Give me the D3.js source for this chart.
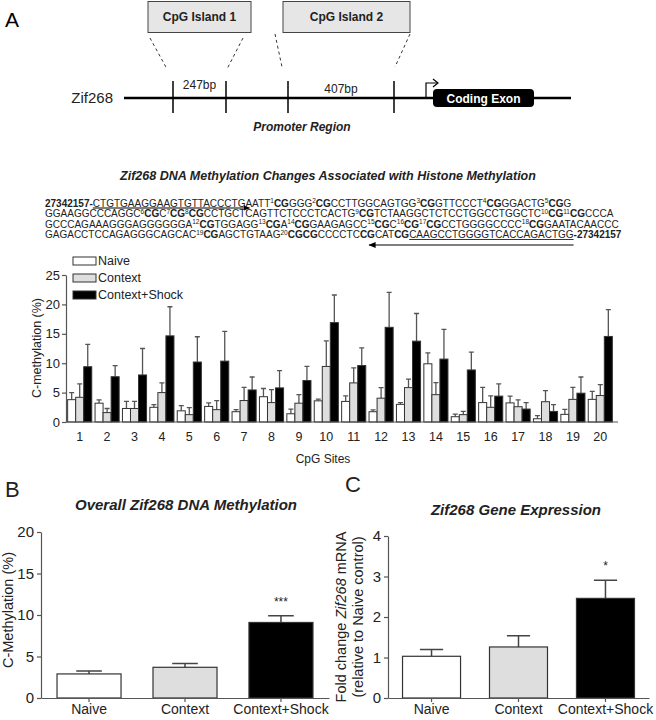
<!DOCTYPE html>
<html>
<head>
<meta charset="utf-8">
<script src="https://cdn.jsdelivr.net/npm/d3@7"></script>
<style>
  body { margin: 0; background: #fff; }
  svg { font-family: 'Liberation Sans', Arial, sans-serif; }
</style>
</head>
<body>
<div class="vis-figure"></div>
<script>
// CpG sites and treatment groups
const sites = ['1', '2', '3', '4', '5', '6', '7', '8', '9', '10',
  '11', '12', '13', '14', '15', '16', '17', '18', '19', '20'];
const groups = ['Naive', 'Context', 'Context+Shock'];

// panel A: % methylation per site (mean and SEM)
const naiveMeth = [3.8, 3.2, 2.3, 2.5, 1.9, 2.65, 1.75, 4.3, 1.4, 3.6, 3.5, 1.75, 3.0, 9.9, 0.9, 3.3, 3.25, 0.55, 1.3, 3.85];
const naiveSem = [1.2, 0.55, 1.2, 0.45, 0.9, 0.6, 0.35, 1.4, 0.8, 0.3, 0.95, 0.3, 0.3, 1.85, 0.45, 2.6, 1.15, 0.55, 0.85, 1.35];
const contextMeth = [4.2, 1.6, 2.3, 5.0, 1.25, 2.1, 3.65, 3.3, 3.2, 9.45, 6.65, 4.05, 5.85, 4.65, 1.25, 2.5, 2.6, 3.45, 3.85, 4.5];
const contextSem = [2.3, 0.7, 1.2, 1.65, 1.2, 1.55, 2.25, 2.2, 1.45, 4.35, 2.55, 1.8, 1.45, 2.05, 0.55, 1.95, 1.15, 1.9, 2.05, 1.85];
const shockMeth = [9.4, 7.7, 8.0, 14.65, 10.2, 10.35, 5.45, 5.8, 7.05, 16.9, 9.6, 16.1, 13.75, 10.7, 8.85, 4.4, 2.2, 1.8, 4.9, 14.55];
const shockSem = [3.8, 1.9, 4.5, 4.95, 4.3, 5.05, 2.2, 2.95, 2.4, 4.7, 3.0, 5.95, 4.7, 5.05, 3.05, 2.1, 1.1, 1.15, 2.75, 4.55];
const siteTicks = [0, 5, 10, 15, 20, 25];

// panel B: overall methylation
const overallMeth = [2.9, 3.7, 9.1];
const overallSem = [0.35, 0.45, 0.8];
const overallSig = ['', '', '***'];
const overallTicks = [0, 5, 10, 15, 20];

// panel C: gene expression (fold change)
const exprFold = [1.03, 1.26, 2.46];
const exprSem = [0.17, 0.28, 0.45];
const exprSig = ['', '', '*'];
const exprTicks = [0, 1, 2, 3, 4];

// promoter sequence, * = bold, _ = underlined primer, ^n = CpG number
const seqLines = [
  '*27342157-*_CTGTGAAGGAAGTGTTACCCTG_AATT^1*CG*GGG^2*CG*CCTTGGCAGTGG^3*CG*GTTCCCT^4*CG*GGACTG^5*CG*G',
  'GGAAGGCCCAGGC^6*CG*C^7*CG*^8*CG*CCTGCTCAGTTCTCCCTCACTG^9*CG*TCTAAGGCTCTCCTGGCCTGGCTC^10*CG*^11*CG*CCCA',
  'GCCCAGAAAGGGAGGGGGGA^12*CG*TGGAGG^13*CG*A^14*CG*GAAGAGCC^15*CG*C^16*CG*^17*CG*CCTGGGGCCCC^18*CG*GAATACAACCC',
  'GAGACCTCCAGAGGGCAGCAC^19*CG*AGCTGTAAG^20*CGCG*CCCCTC*CG*CAT*CG*_CAAGCCTGGGGTCACCAGACTGG_*-27342157*'
];

const fills = d3.scaleOrdinal().domain(groups).range(['#ffffff', '#dedede', '#000000']);
const axisColor = '#555';
const textColor = '#222';

const svg = d3.select('.vis-figure')
  .append('svg')
  .attr('width', 656)
  .attr('height', 720);

svg.append('defs').append('marker')
  .attr('id', 'arrow')
  .attr('viewBox', '0 0 10 10')
  .attr('refX', 9).attr('refY', 5)
  .attr('markerWidth', 6).attr('markerHeight', 6)
  .attr('orient', 'auto-start-reverse')
  .append('path')
  .attr('d', 'M0,1 L10,5 L0,9 z')
  .attr('fill', '#000');

const styleAxis = (g, size) => {
  g.select('.domain').attr('stroke', axisColor).attr('stroke-width', 1.2);
  g.selectAll('.tick line').attr('stroke', axisColor).attr('stroke-width', 1.2);
  g.selectAll('.tick text').attr('fill', textColor).style('font-size', size + 'px');
};

// ---------- panel A schematic ----------
const schem = svg.append('g');
schem.append('text').attr('x', 5).attr('y', 27).style('font-size', '21px').text('A');

const islands = [
  { label: 'CpG Island 1', x0: 148, x1: 251, l0: 150, l1: 243, t0: 173, t1: 226, bp: '247bp' },
  { label: 'CpG Island 2', x0: 283, x1: 410, l0: 275, l1: 410, t0: 288, t1: 394, bp: '407bp' }
];
const lineY = 98;

islands.forEach((d, i) => {
  schem.append('rect')
    .attr('x', d.x0).attr('y', 1.5)
    .attr('width', d.x1 - d.x0).attr('height', 31)
    .attr('fill', '#e6e6e6').attr('stroke', '#444').attr('stroke-width', 1);
  schem.append('text')
    .attr('x', (d.x0 + d.x1) / 2).attr('y', 21)
    .attr('text-anchor', 'middle')
    .style('font-size', '12px').style('font-weight', 'bold')
    .attr('fill', '#222')
    .text(d.label);
  const top = i === 0 ? 38 : 34;
  const bot = i === 0 ? 69 : 67;
  schem.append('line').attr('x1', d.l0).attr('y1', top).attr('x2', d.t0 - 6).attr('y2', bot)
    .attr('stroke', '#333').attr('stroke-dasharray', '3,3');
  schem.append('line').attr('x1', d.l1).attr('y1', top).attr('x2', d.t1 + 1).attr('y2', bot)
    .attr('stroke', '#333').attr('stroke-dasharray', '3,3');
  [d.t0, d.t1].forEach((tx) => {
    schem.append('line').attr('x1', tx).attr('x2', tx).attr('y1', 81).attr('y2', 113)
      .attr('stroke', '#000').attr('stroke-width', 1.5);
  });
  schem.append('text')
    .attr('x', (d.t0 + d.t1) / 2).attr('y', i === 0 ? 89 : 93)
    .attr('text-anchor', 'middle')
    .style('font-size', '12px').attr('fill', '#222')
    .text(d.bp);
});

schem.append('line').attr('x1', 124).attr('x2', 571).attr('y1', lineY).attr('y2', lineY)
  .attr('stroke', '#000').attr('stroke-width', 2.5);
schem.append('text').attr('x', 113).attr('y', 103).attr('text-anchor', 'end')
  .style('font-size', '15px').attr('fill', '#222').text('Zif268');

// transcription start arrow
schem.append('path')
  .attr('d', 'M426,' + lineY + ' V83 H437')
  .attr('fill', 'none').attr('stroke', '#000').attr('stroke-width', 1.2);
schem.append('path')
  .attr('d', 'M433,79 L438,83 L433,87')
  .attr('fill', 'none').attr('stroke', '#000').attr('stroke-width', 1.2);

schem.append('rect')
  .attr('x', 433).attr('y', 89).attr('width', 101).attr('height', 18).attr('rx', 4)
  .attr('fill', '#000');
schem.append('text').attr('x', 483.5).attr('y', 102.5).attr('text-anchor', 'middle')
  .style('font-size', '12px').style('font-weight', 'bold').attr('fill', '#fff')
  .text('Coding Exon');

schem.append('text').attr('x', 302).attr('y', 131).attr('text-anchor', 'middle')
  .style('font-size', '12px').style('font-weight', 'bold').style('font-style', 'italic')
  .attr('fill', '#222').text('Promoter Region');

// ---------- sequence ----------
svg.append('text').attr('x', 328).attr('y', 180).attr('text-anchor', 'middle')
  .style('font-size', '12.5px').style('font-weight', 'bold').style('font-style', 'italic')
  .attr('fill', '#222')
  .text('Zif268 DNA Methylation Changes Associated with Histone Methylation');

const seqG = svg.append('g').attr('fill', '#222');
const tokenRe = /\*([^*]+)\*|_([^_]+)_|\^(\d+)|([^*_^]+)/g;

seqLines.forEach((line, li) => {
  const baseY = 206.5 + li * 10.5;
  let cx = 45;
  let m;
  tokenRe.lastIndex = 0;
  while ((m = tokenRe.exec(line)) !== null) {
    const sup = m[3] !== undefined;
    const txt = m[1] || m[2] || m[3] || m[4];
    const el = seqG.append('text')
      .attr('x', cx)
      .attr('y', sup ? baseY - 3.5 : baseY)
      .style('font-size', sup ? '6.5px' : '10px')
      .style('font-weight', m[1] ? 'bold' : 'normal')
      .text(txt);
    const w = el.node().getComputedTextLength();
    if (m[2]) {
      if (li === 0) {
        seqG.append('line').attr('x1', cx).attr('x2', cx + w + 4)
          .attr('y1', baseY + 1.5).attr('y2', baseY + 1.5)
          .attr('stroke', '#000').attr('stroke-width', 1)
          .attr('marker-end', 'url(#arrow)');
      } else {
        seqG.append('line').attr('x1', cx).attr('x2', cx + w)
          .attr('y1', baseY + 1.5).attr('y2', baseY + 1.5)
          .attr('stroke', '#000').attr('stroke-width', 0.8);
        seqG.append('line').attr('x1', cx + w).attr('x2', cx - 40)
          .attr('y1', baseY + 7).attr('y2', baseY + 7)
          .attr('stroke', '#000').attr('stroke-width', 1.2)
          .attr('marker-end', 'url(#arrow)');
      }
    }
    cx += w;
  }
});

// ---------- CpG site bar chart ----------
const siteData = sites.map((s, i) => ({
  site: s,
  values: [
    { group: groups[0], value: naiveMeth[i], sem: naiveSem[i] },
    { group: groups[1], value: contextMeth[i], sem: contextSem[i] },
    { group: groups[2], value: shockMeth[i], sem: shockSem[i] }
  ]
}));

const x0 = d3.scaleBand().domain(sites).range([66, 614]).paddingInner(0.12).paddingOuter(0.06);
const x1 = d3.scaleBand().domain(groups).range([0, x0.bandwidth()]);
const yA = d3.scaleLinear().domain([0, 25]).range([422, 275]);

const chartA = svg.append('g');
const siteG = chartA.selectAll('.site')
  .data(siteData)
  .enter()
  .append('g')
  .attr('class', 'site')
  .attr('transform', (d) => 'translate(' + x0(d.site) + ',0)');

// error bars first so bars sit on top of the lower half
siteG.selectAll('.err')
  .data((d) => d.values)
  .enter()
  .append('path')
  .attr('class', 'err')
  .attr('d', (d) => {
    const cx = x1(d.group) + x1.bandwidth() / 2;
    const top = yA(d.value + d.sem);
    return 'M' + cx + ',' + yA(d.value) + ' V' + top + ' M' + (cx - 2.5) + ',' + top + ' H' + (cx + 2.5);
  })
  .attr('fill', 'none')
  .attr('stroke', '#555')
  .attr('stroke-width', 1.3);

siteG.selectAll('rect')
  .data((d) => d.values)
  .enter()
  .append('rect')
  .attr('x', (d) => x1(d.group))
  .attr('y', (d) => yA(d.value))
  .attr('width', x1.bandwidth())
  .attr('height', (d) => yA(0) - yA(d.value))
  .attr('fill', (d) => fills(d.group))
  .attr('stroke', '#333')
  .attr('stroke-width', 1);

chartA.append('g')
  .attr('transform', 'translate(66,0)')
  .call(d3.axisLeft(yA).tickValues(siteTicks).tickSize(4).tickSizeOuter(0).tickPadding(2))
  .call((g) => styleAxis(g, 13));

chartA.append('line').attr('x1', 66).attr('x2', 618).attr('y1', yA(0)).attr('y2', yA(0))
  .attr('stroke', axisColor).attr('stroke-width', 1.2);

chartA.append('g')
  .selectAll('text')
  .data(sites)
  .enter()
  .append('text')
  .attr('x', (d) => x0(d) + x0.bandwidth() / 2)
  .attr('y', 441)
  .attr('text-anchor', 'middle')
  .style('font-size', '12.5px')
  .attr('fill', textColor)
  .text((d) => d);

chartA.append('text').attr('x', 323).attr('y', 463).attr('text-anchor', 'middle')
  .style('font-size', '12px').attr('fill', textColor).text('CpG Sites');

chartA.append('text')
  .attr('transform', 'translate(41,348) rotate(-90)')
  .attr('text-anchor', 'middle')
  .style('font-size', '12.5px').attr('fill', textColor)
  .text('C-methylation (%)');

const legendG = chartA.selectAll('.legend')
  .data(groups)
  .enter()
  .append('g')
  .attr('class', 'legend')
  .attr('transform', (d, i) => 'translate(73,' + (257 + i * 17) + ')');
legendG.append('rect')
  .attr('width', 23).attr('height', 8)
  .attr('fill', (d) => fills(d))
  .attr('stroke', '#333');
legendG.append('text')
  .attr('x', 25).attr('y', 8)
  .style('font-size', '12.5px').attr('fill', textColor)
  .text((d) => d);

// ---------- small group bar charts (B and C) ----------
const groupChart = (opts) => {
  const g = svg.append('g');
  const x = d3.scaleBand().domain(groups).range(opts.xRange).paddingInner(0.333).paddingOuter(0.167);
  const y = d3.scaleLinear().domain(opts.domain).range([698, opts.yTop]);
  const data = groups.map((grp, i) => ({ group: grp, value: opts.values[i], sem: opts.sem[i], sig: opts.sig[i] }));
  const capW = x.bandwidth() * 0.2;

  g.selectAll('.err')
    .data(data)
    .enter()
    .append('path')
    .attr('d', (d) => {
      const cx = x(d.group) + x.bandwidth() / 2;
      const top = y(d.value + d.sem);
      return 'M' + cx + ',' + y(d.value) + ' V' + top + ' M' + (cx - capW) + ',' + top + ' H' + (cx + capW);
    })
    .attr('fill', 'none').attr('stroke', '#444').attr('stroke-width', 1.5);

  g.selectAll('rect')
    .data(data)
    .enter()
    .append('rect')
    .attr('x', (d) => x(d.group))
    .attr('y', (d) => y(d.value))
    .attr('width', x.bandwidth())
    .attr('height', (d) => y(0) - y(d.value))
    .attr('fill', (d) => fills(d.group))
    .attr('stroke', '#333').attr('stroke-width', 1.2);

  g.selectAll('.sig')
    .data(data)
    .enter()
    .append('text')
    .attr('x', (d) => x(d.group) + x.bandwidth() / 2)
    .attr('y', (d) => y(d.value + d.sem) - 10)
    .attr('text-anchor', 'middle')
    .style('font-size', '12px').attr('fill', textColor)
    .text((d) => d.sig);

  g.append('g')
    .attr('transform', 'translate(' + opts.xRange[0] + ',0)')
    .call(d3.axisLeft(y).tickValues(opts.ticks).tickFormat(d3.format('d'))
      .tickSize(4).tickSizeOuter(0).tickPadding(3))
    .call((a) => styleAxis(a, 15));

  g.append('g')
    .attr('transform', 'translate(0,' + y(0) + ')')
    .call(d3.axisBottom(x).tickSize(4).tickSizeOuter(0).tickPadding(2))
    .call((a) => styleAxis(a, 14));

  g.append('text').attr('x', opts.letterX).attr('y', opts.letterY)
    .style('font-size', '22px').attr('fill', textColor).text(opts.letter);
  g.append('text').attr('x', opts.titleX).attr('y', opts.titleY).attr('text-anchor', 'middle')
    .style('font-size', '15px').style('font-weight', 'bold').style('font-style', 'italic')
    .attr('fill', textColor).text(opts.title);
  return g;
};

groupChart({
  xRange: [41, 329], domain: [0, 20], yTop: 532, ticks: overallTicks,
  values: overallMeth, sem: overallSem, sig: overallSig,
  letter: 'B', letterX: 5, letterY: 497,
  title: 'Overall Zif268 DNA Methylation', titleX: 186, titleY: 510
});
svg.append('text')
  .attr('transform', 'translate(13,610) rotate(-90)')
  .attr('text-anchor', 'middle')
  .style('font-size', '14.5px').attr('fill', textColor)
  .text('C-Methylation (%)');

groupChart({
  xRange: [388, 649], domain: [0, 4], yTop: 536, ticks: exprTicks,
  values: exprFold, sem: exprSem, sig: exprSig,
  letter: 'C', letterX: 345, letterY: 492,
  title: 'Zif268 Gene Expression', titleX: 516, titleY: 515
});
const cLabel = svg.append('text')
  .attr('transform', 'translate(346,617) rotate(-90)')
  .attr('text-anchor', 'middle')
  .style('font-size', '14.5px').attr('fill', textColor);
cLabel.append('tspan').text('Fold change ');
cLabel.append('tspan').style('font-style', 'italic').text('Zif268');
cLabel.append('tspan').text(' mRNA');
svg.append('text')
  .attr('transform', 'translate(363,617) rotate(-90)')
  .attr('text-anchor', 'middle')
  .style('font-size', '14.5px').attr('fill', textColor)
  .text('(relative to  Naive control)');
</script>
</body>
</html>
